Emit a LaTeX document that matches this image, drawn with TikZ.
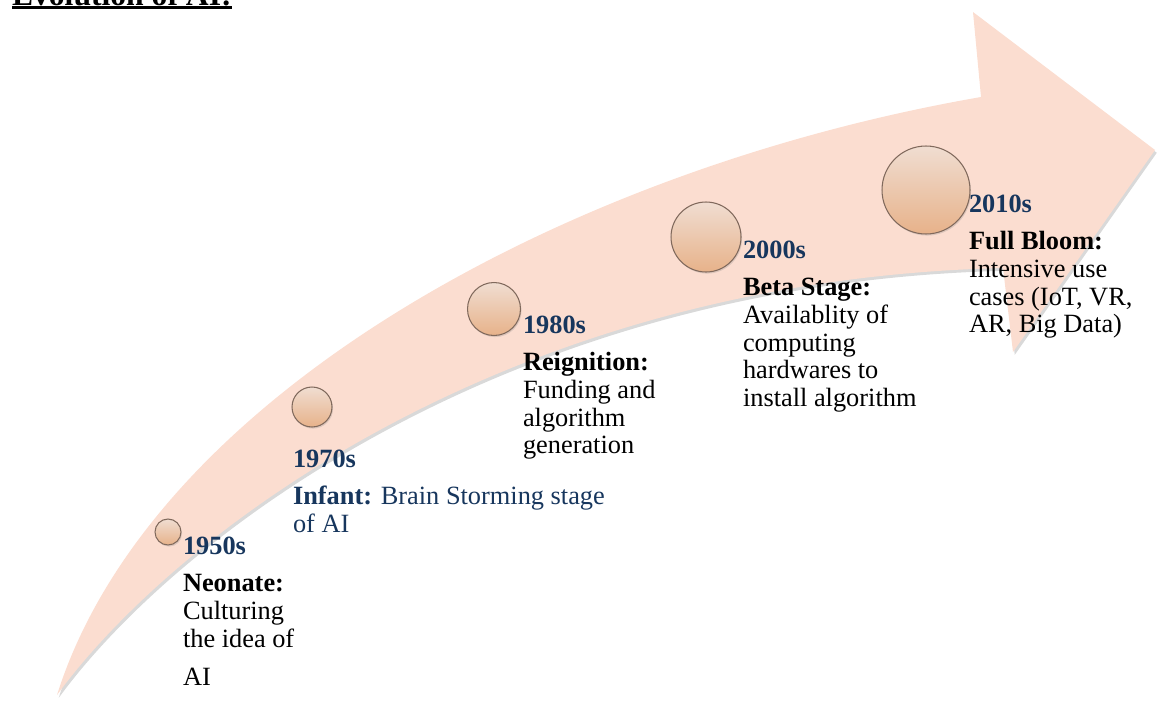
\documentclass[tikz,border=0pt]{standalone}
\usepackage{fontspec}
\setmainfont{Liberation Serif}
\usepackage{tikz}
\usetikzlibrary{positioning,calc,shadows}

\definecolor{arrowpink}{RGB}{251,221,208}
\definecolor{yearblue}{RGB}{23,54,93}
\definecolor{ballrim}{RGB}{128,105,92}
\definecolor{balltop}{RGB}{240,221,209}
\definecolor{ballbot}{RGB}{231,178,138}

\begin{document}
\begin{tikzpicture}[x=0.02cm, y=-0.02cm, outer sep=0pt,
    ball/.style={circle, inner sep=0pt, draw=ballrim, line width=0.6pt, top color=balltop, bottom color=ballbot,
        drop shadow={opacity=0.25, shadow xshift=0.6pt, shadow yshift=-0.9pt}},
    year/.style={anchor=base west, inner sep=0pt, text=yearblue, font=\fontsize{15}{15.7}\selectfont\bfseries},
    desc/.style={below right=10.6pt and 0pt of #1, inner sep=0pt, align=left, font=\fontsize{15}{15.7}\selectfont}]
    \useasboundingbox (0,0) rectangle (1173,700);

    % the big bent arrow
    \path[fill=arrowpink, drop shadow={opacity=0.3, shadow xshift=1pt, shadow yshift=-1.6pt}]
        (57,695) .. controls (150,400) and (560,170) .. (981,97)
        -- (973,12) -- (1155,150) -- (1013,352) -- (1003,268)
        .. controls (500,280) and (170,540) .. (57,695) -- cycle;

    % title, cut at the top edge
    \node [anchor=base west, inner sep=0pt, font=\fontsize{18}{20}\selectfont\bfseries] (ttl) at (12,5) {Evolution of AI:};
    \draw [line width=1.6pt] ([yshift=-1.4pt]ttl.base west) -- ([yshift=-1.4pt]ttl.base east);

    % milestones
    \node [ball, minimum size=0.52cm] (c1) at (168,532) {};
    \node [ball, minimum size=0.80cm] (c2) at (312,407) {};
    \node [ball, minimum size=1.06cm] (c3) at (494,309) {};
    \node [ball, minimum size=1.40cm] (c4) at (706,237) {};
    \node [ball, minimum size=1.76cm] (c5) at (926,190) {};

    \node [year] (y1) at (183,554) {1950s};
    \node [year] (y2) at (293,467) {1970s};
    \node [year] (y3) at (523,333) {1980s};
    \node [year] (y4) at (743,258) {2000s};
    \node [year] (y5) at (969,212) {2010s};

    \node [desc=y1.base west] (d1) {\strut\textbf{Neonate:}\\Culturing\\the idea of\\[6pt]AI};
    \node [desc=y2.base west, text=yearblue] (d2) {\strut\textbf{Infant:} Brain Storming stage\\of AI};
    \node [desc=y3.base west] (d3) {\strut\textbf{Reignition:}\\Funding and\\algorithm\\generation};
    \node [desc=y4.base west] (d4) {\strut\textbf{Beta Stage:}\\Availablity of\\computing\\hardwares to\\install algorithm};
    \node [desc=y5.base west] (d5) {\strut\textbf{Full Bloom:}\\Intensive use\\cases (IoT, VR,\\AR, Big Data)};
\end{tikzpicture}
\end{document}
